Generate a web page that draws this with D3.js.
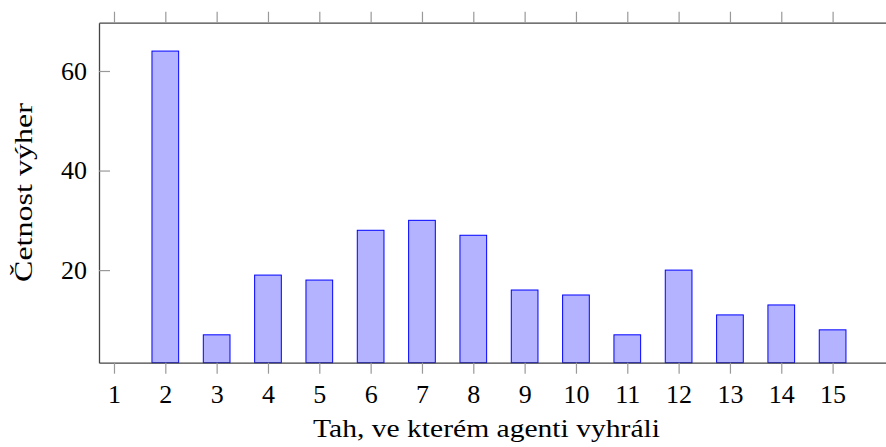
<!DOCTYPE html>
<html><head><meta charset="utf-8">
<script src="https://cdn.jsdelivr.net/npm/d3@7"></script>
<style>body{margin:0;background:#fff}svg{display:block}</style>
</head><body>
<svg id="c" width="886" height="447"></svg>
<script>
const categories = [1,2,3,4,5,6,7,8,9,10,11,12,13,14,15];
const wins = [0,64,7,19,18,28,30,27,16,15,7,20,11,13,8];
const yTicks = [20,40,60];
const xLabel = "Tah, ve kterém agenti vyhráli";
const yLabel = "Četnost výher";

const svg = d3.select("#c");
const FONT = '"Liberation Serif", "Times New Roman", serif';
const x = d3.scaleLinear().domain([0.708, 16.3]).range([99, 99 + (16.3-0.708)*51.33]);
const y = d3.scaleLinear().domain([1.4, 69.7]).range([362.7, 22.7]);
const bw = 0.52;

// bars
svg.append("g").selectAll("rect").data(categories.map((c,i)=>({c, v: wins[i]})).filter(d=>d.v>0))
  .join("rect")
  .attr("x", d => x(d.c - bw/2))
  .attr("width", d => x(d.c + bw/2) - x(d.c - bw/2))
  .attr("y", d => y(d.v))
  .attr("height", d => y(1.4) - y(d.v))
  .attr("fill", "#b3b3ff").attr("stroke", "#0000ff").attr("stroke-width", 1);

function style(g){
  g.attr("font-family", null);
  g.select(".domain").attr("stroke","#444").attr("stroke-width",1.3);
  g.selectAll(".tick line").attr("stroke","#999").attr("stroke-width",1.2);
  g.selectAll(".tick text").style("font-family",FONT).attr("font-size",26).attr("fill","#000");
}

// bottom axis
svg.append("g").attr("transform","translate(0,362.7)")
  .call(d3.axisBottom(x).tickValues(categories).tickSize(11).tickSizeOuter(0).tickPadding(11).tickFormat(d3.format("d")))
  .call(style);
// top axis
svg.append("g").attr("transform","translate(0,22.7)")
  .call(d3.axisTop(x).tickValues(categories).tickSize(11).tickSizeOuter(0).tickFormat(""))
  .call(style);
// left axis
svg.append("g").attr("transform","translate(99,0)")
  .call(d3.axisLeft(y).tickValues(yTicks).tickSize(-11).tickSizeOuter(0).tickPadding(12).tickFormat(d3.format("d")))
  .call(style);

svg.append("text").attr("x", 486.5).attr("y", 437).attr("text-anchor","middle")
  .style("font-family",FONT).attr("font-size",26).attr("fill","#000")
  .attr("textLength",347).attr("lengthAdjust","spacingAndGlyphs").text(xLabel);
svg.append("text").attr("transform","translate(32,192.5) rotate(-90)").attr("text-anchor","middle")
  .style("font-family",FONT).attr("font-size",26).attr("fill","#000")
  .attr("textLength",179).attr("lengthAdjust","spacingAndGlyphs").text(yLabel);
</script>
</body></html>
